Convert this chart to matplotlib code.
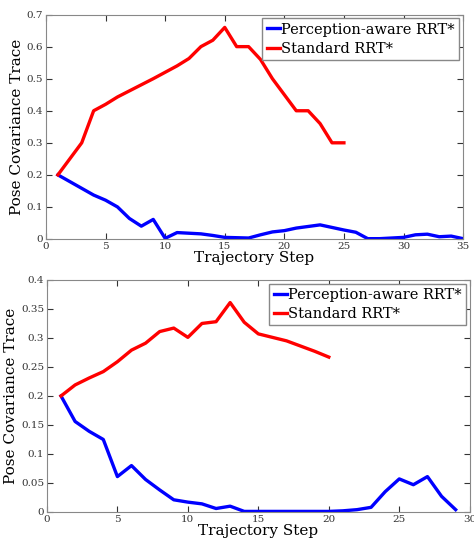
import matplotlib
matplotlib.use("agg")
import matplotlib.pyplot as plt

plt.rcParams["font.family"] = "DejaVu Serif"

# top panel
top_steps_pa = list(range(1, 36))
top_pa = [0.2, 0.179, 0.158, 0.137, 0.121, 0.10, 0.064, 0.04, 0.061, 0.002,
          0.02, 0.018, 0.016, 0.011, 0.005, 0.004, 0.003, 0.013, 0.022, 0.026,
          0.034, 0.039, 0.044, 0.036, 0.028, 0.021, 0.001, 0.001, 0.003, 0.005,
          0.013, 0.015, 0.007, 0.009, 0.001]
top_steps_std = list(range(1, 26))
top_std = [0.2, 0.25, 0.30, 0.40, 0.42, 0.443, 0.462, 0.481, 0.50, 0.52,
           0.54, 0.563, 0.60, 0.62, 0.66, 0.60, 0.60, 0.56, 0.50, 0.45,
           0.40, 0.40, 0.36, 0.30, 0.30]

# bottom panel
bot_steps_pa = list(range(1, 30))
bot_pa = [0.2, 0.156, 0.139, 0.125, 0.061, 0.08, 0.056, 0.038, 0.021, 0.017,
          0.014, 0.006, 0.01, 0.001, 0.001, 0.001, 0.001, 0.001, 0.001, 0.001,
          0.002, 0.004, 0.008, 0.035, 0.057, 0.047, 0.061, 0.027, 0.004]
bot_steps_std = list(range(1, 21))
bot_std = [0.2, 0.219, 0.231, 0.242, 0.259, 0.279, 0.291, 0.311, 0.317, 0.301,
           0.325, 0.328, 0.361, 0.327, 0.307, 0.301, 0.295, 0.286, 0.277, 0.267]

labels = ["Perception-aware RRT*", "Standard RRT*"]

fig = plt.figure(figsize=(4.74, 5.46), dpi=100)
ax1 = fig.add_axes([0.097, 0.5623, 0.880, 0.411])
ax2 = fig.add_axes([0.099, 0.0623, 0.892, 0.425])

panels = [
    (ax1, top_steps_pa, top_pa, top_steps_std, top_std, 35, 0.7, [0, 0.1, 0.2, 0.3, 0.4, 0.5, 0.6, 0.7],
     ["0", "0.1", "0.2", "0.3", "0.4", "0.5", "0.6", "0.7"]),
    (ax2, bot_steps_pa, bot_pa, bot_steps_std, bot_std, 30, 0.4,
     [0, 0.05, 0.1, 0.15, 0.2, 0.25, 0.3, 0.35, 0.4],
     ["0", "0.05", "0.1", "0.15", "0.2", "0.25", "0.3", "0.35", "0.4"]),
]

for ax, xs1, ys1, xs2, ys2, xmax, ymax, yt, ytl in panels:
    ax.plot(xs1, ys1, color="blue", lw=2.4, label=labels[0])
    ax.plot(xs2, ys2, color="red", lw=2.4, label=labels[1])
    ax.set_xlim(0, xmax)
    ax.set_ylim(0, ymax)
    ax.set_xticks(range(0, xmax + 1, 5))
    ax.set_yticks(yt)
    ax.set_yticklabels(ytl)
    ax.tick_params(direction="in", top=True, right=True, labelsize=7.5,
                   colors="#333333", length=4, pad=2)
    for s in ax.spines.values():
        s.set_color("#888888")
    ax.set_xlabel("Trajectory Step", fontsize=11, labelpad=0)
    ax.set_ylabel("Pose Covariance Trace", fontsize=11, labelpad=2)
    leg = ax.legend(loc="upper right", fontsize=10.5, handlelength=0.9,
                    handletextpad=0.1, borderaxespad=0.25, borderpad=0.3,
                    labelspacing=0.35, fancybox=False, framealpha=1)
    leg.get_frame().set_edgecolor("#888888")

fig.savefig("out.png", dpi=100)
